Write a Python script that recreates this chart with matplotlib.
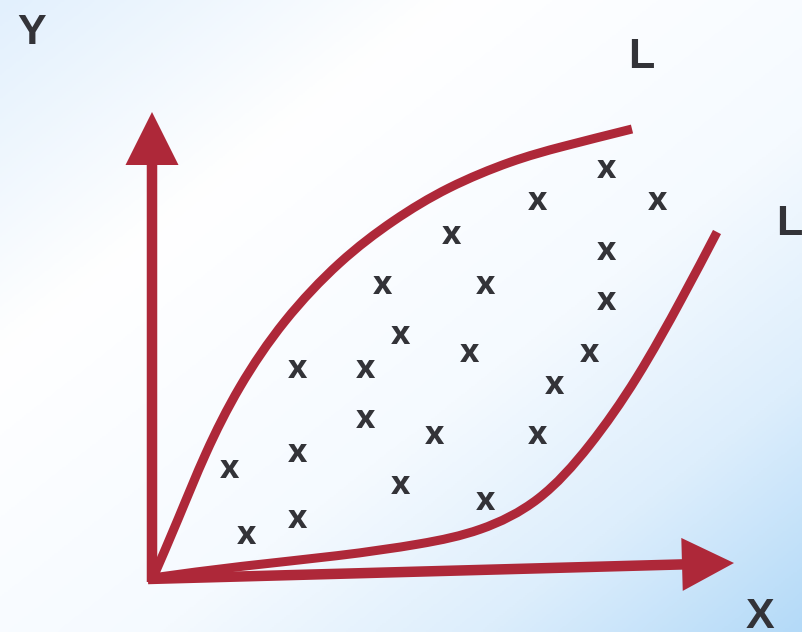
import numpy as np
import matplotlib.pyplot as plt
from matplotlib.colors import LinearSegmentedColormap
from matplotlib.path import Path
from matplotlib.patches import PathPatch

# ── data (pixel coordinates of the sketch, y grows downward) ────────────────
upper_x = [152, 178, 205, 238, 283, 340, 393, 447, 513, 560, 632]
upper_y = [580, 520, 453, 387, 320, 260, 220, 187, 160, 147, 129]

lower_x = [152, 240, 340, 423, 480, 540, 590, 637, 683, 717]
lower_y = [578, 566, 556, 544, 532, 503, 447, 380, 297, 232]

mark_x = [606, 537, 657, 451, 606, 382, 485, 606, 400, 469, 589, 297,
          365, 554, 365, 434, 537, 229, 297, 400, 485, 297, 246]
mark_y = [169, 202, 202, 235, 252, 285, 285, 302, 335, 353, 353, 369,
          369, 386, 419, 435, 435, 469, 453, 486, 502, 519, 536]

labels = ["Y", "L", "L", "X"]
label_x = [32, 641, 789, 760]
label_y = [33, 57, 224, 617]

RED = "#ae2839"
INK = "#333338"


def bspline_path(xs, ys):
    """읽은 점을 제어점으로 쓰는 3차 균일 B-spline -> 베지어 조각"""
    p = np.column_stack([xs, ys]).astype(float)
    b = np.vstack([p[0], p[0], p, p[-1], p[-1]])
    verts, codes = [], []
    for i in range(1, len(b) - 2):
        q0, q1, q2, q3 = b[i - 1], b[i], b[i + 1], b[i + 2]
        start = (q0 + 4 * q1 + q2) / 6
        if not verts:
            verts.append(start)
            codes.append(Path.MOVETO)
        verts += [(2 * q1 + q2) / 3, (q1 + 2 * q2) / 3, (q1 + 4 * q2 + q3) / 6]
        codes += [Path.CURVE4] * 3
    return Path(verts, codes)


fig = plt.figure(figsize=(8.03, 6.32), dpi=100)
ax = fig.add_axes([0, 0, 1, 1])
ax.set_xlim(0, 803)
ax.set_ylim(632, 0)
ax.axis("off")

# 배경 그라데이션
gx, gy = np.meshgrid(np.linspace(0, 1, 400), np.linspace(0, 1, 320))
t = (gx + gy) / 2
cmap = LinearSegmentedColormap.from_list(
    "bg", [(0, "#e2f0fd"), (0.28, "#ffffff"), (0.6, "#f5faff"),
           (0.8, "#ddeefc"), (1, "#b4daf8")])
ax.imshow(t, cmap=cmap, extent=[0, 803, 632, 0], aspect="auto", zorder=0)

# 축 화살표
ax.arrow(152, 582, 0, 112 - 582, width=10.5, head_width=53, head_length=53,
         length_includes_head=True, color=RED, lw=0, zorder=3)
ax.arrow(148, 579, 734 - 148, 563 - 579, width=10.5, head_width=53,
         head_length=52, length_includes_head=True, color=RED, lw=0, zorder=3)

# 곡선 L
for xs, ys in [(upper_x, upper_y), (lower_x, lower_y)]:
    ax.add_patch(PathPatch(bspline_path(xs, ys), fill=False, edgecolor=RED,
                           lw=6.5, capstyle="butt", zorder=2))

# x 표시
for x, y in zip(mark_x, mark_y):
    ax.text(x, y, "x", ha="center", va="center", fontsize=24,
            fontweight="bold", family="Open Sans", color=INK, zorder=4)

for s, x, y in zip(labels, label_x, label_y):
    ax.text(x, y, s, ha="center", va="center", fontsize=31,
            fontweight="bold", family="Liberation Sans", color=INK, zorder=4)

fig.savefig("out.png", dpi=100)
